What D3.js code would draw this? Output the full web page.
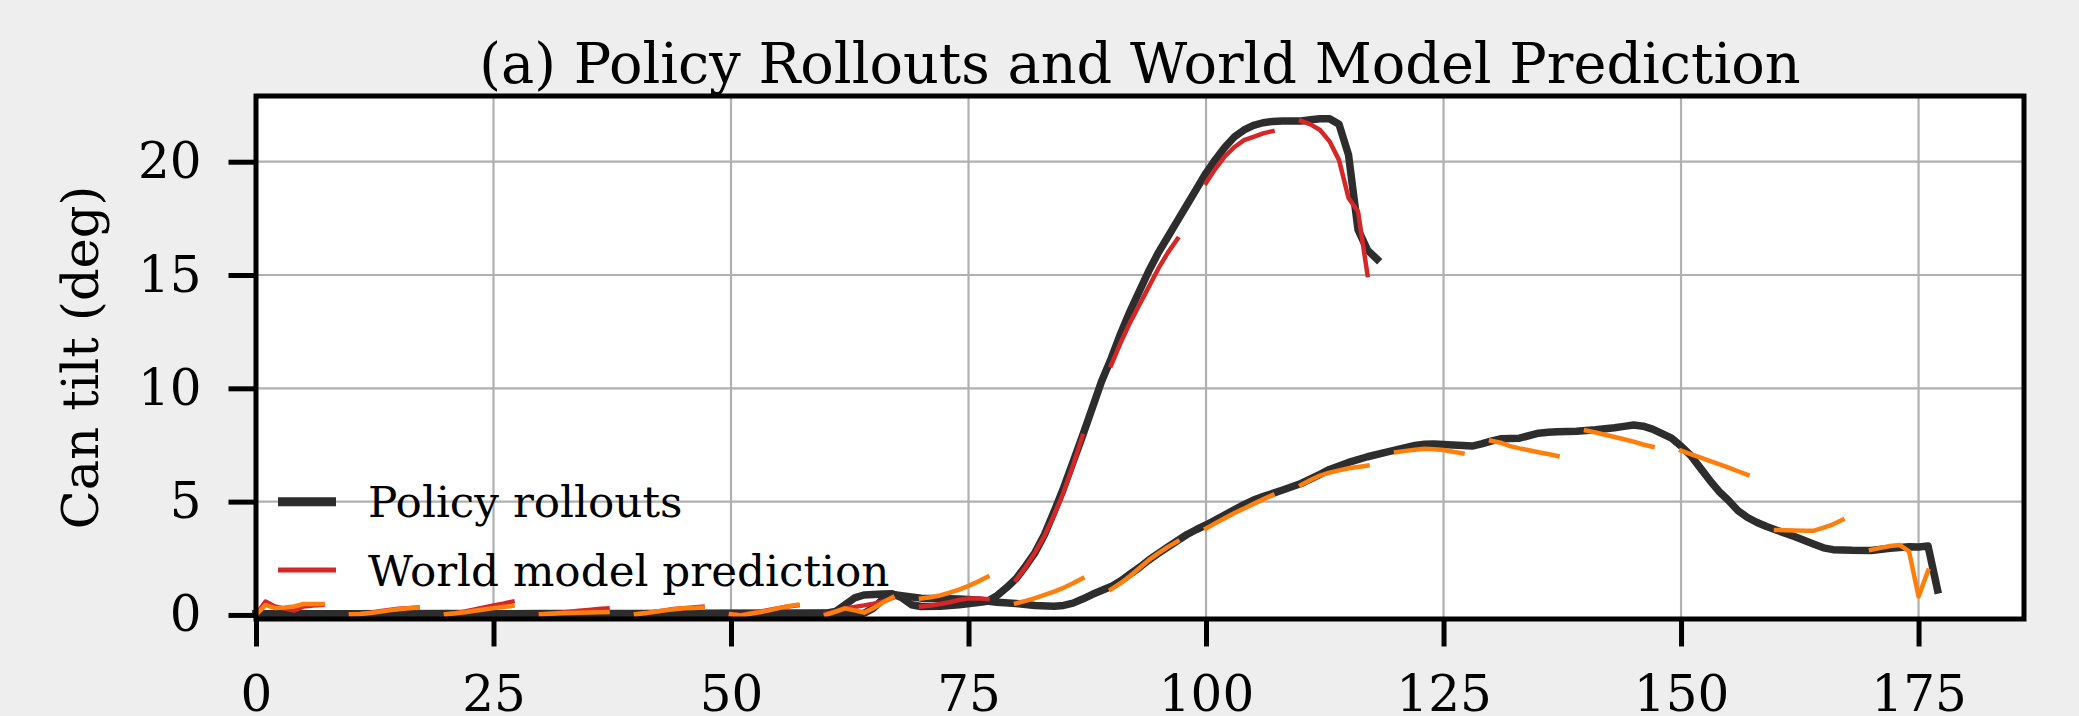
<!DOCTYPE html>
<meta charset="utf-8">
<style>
body { margin: 0; background: #eeeeee; }
svg { display: block; font-family: "DejaVu Serif", serif; }
.tick text { font-size: 50px; fill: #000; }
</style>
<svg width="2079" height="716"></svg>
<script src="https://d3js.org/d3.v7.min.js"></script>
<script>

// rollout with the big tilt (red predictions)
var steps1 = [0, 10, 20, 30, 40, 50, 60, 61, 62, 63, 64, 66, 67, 68, 69, 70, 72, 74, 76, 77,
  78, 79, 80, 81, 82, 83, 84, 85, 86, 87, 88, 89, 90, 91, 92, 93, 94, 95, 96, 97, 98, 99,
  100, 101, 102, 103, 104, 105, 106, 107, 108, 109, 110, 111, 112, 113, 114, 115, 116, 117, 118];
var tilt1 = [0.05, 0.05, 0.06, 0.05, 0.06, 0.07, 0.08, 0.15, 0.45, 0.75, 0.88, 0.92, 0.93, 0.75, 0.45, 0.37, 0.38, 0.45, 0.55, 0.6,
  0.85, 1.2, 1.6, 2.15, 2.75, 3.55, 4.55, 5.6, 6.75, 7.9, 9.1, 10.3, 11.3, 12.4, 13.4, 14.3, 15.2, 16.0, 16.7, 17.4, 18.1, 18.8,
  19.5, 20.1, 20.65, 21.1, 21.4, 21.6, 21.72, 21.78, 21.8, 21.8, 21.8, 21.85, 21.9, 21.9, 21.65, 20.3, 17.0, 16.1, 15.7];

// rollout with the small tilt (orange predictions)
var steps2 = [0, 10, 20, 30, 40, 50, 60, 64, 65, 66, 67, 68, 70, 72, 74, 76, 78, 80, 82, 84, 85, 86, 87, 88, 89,
  90, 91, 92, 93, 94, 95, 96, 97, 98, 99, 100, 102, 104, 105, 106, 108, 110, 112, 113, 115, 117, 119, 121, 122,
  123, 124, 126, 128, 129, 130, 131, 133, 135, 136, 137, 139, 141, 143, 144, 145, 146, 147, 148, 149, 150,
  151, 152, 153, 154, 155, 156, 157, 158, 159, 160, 162, 164, 165, 166, 168, 170, 172, 174, 175, 176, 177];
var tilt2 = [0.05, 0.05, 0.05, 0.06, 0.05, 0.06, 0.06, 0.07, 0.3, 0.7, 0.9, 0.85, 0.74, 0.72, 0.7, 0.66, 0.56, 0.5, 0.42, 0.38, 0.42, 0.52, 0.7, 0.9, 1.08,
  1.25, 1.5, 1.8, 2.1, 2.43, 2.72, 3.0, 3.28, 3.55, 3.77, 3.97, 4.42, 4.87, 5.07, 5.22, 5.5, 5.8, 6.2, 6.42, 6.73, 6.98, 7.18, 7.38, 7.48,
  7.53, 7.54, 7.5, 7.45, 7.55, 7.67, 7.77, 7.8, 8.02, 8.06, 8.08, 8.11, 8.17, 8.26, 8.32, 8.38, 8.33, 8.2, 8.0, 7.8, 7.45,
  7.05, 6.5, 5.95, 5.45, 5.05, 4.6, 4.3, 4.08, 3.9, 3.75, 3.45, 3.12, 2.96, 2.88, 2.85, 2.84, 2.94, 3.01, 3.0, 3.04, 1.1];

// world model predictions, one 8 step segment starting every 10 steps
var predStarts = [0, 10, 20, 30, 40, 50, 60, 70, 80, 90, 100, 110, 120, 130, 140, 150, 160, 170];
var predRed = [
  [0, 0.59, 0.37, 0.28, 0.19, 0.37, 0.42, 0.44],
  [0.03, 0.05, 0.1, 0.16, 0.22, 0.27, 0.3, 0.33],
  [0.03, 0.08, 0.15, 0.24, 0.33, 0.42, 0.5, 0.59],
  [0.03, 0.06, 0.1, 0.14, 0.18, 0.22, 0.26, 0.29],
  [0.03, 0.08, 0.14, 0.2, 0.26, 0.3, 0.33, 0.36],
  [0.03, 0.0, 0.07, 0.14, 0.22, 0.3, 0.37, 0.42],
  [0.05, 0.15, 0.3, 0.35, 0.42, 0.5, 0.6, 0.75],
  [0.37, 0.42, 0.48, 0.56, 0.66, 0.73, 0.73, 0.7],
  [1.55, 2.1, 2.75, 3.5, 4.4, 5.4, 6.6, 7.9],
  [11.0, 12.0, 12.9, 13.7, 14.5, 15.3, 16.0, 16.6],
  [19.07, 19.7, 20.25, 20.65, 20.95, 21.1, 21.25, 21.35],
  [21.8, 21.65, 21.4, 20.9, 20.07, 18.4, 17.8, 15.0]
];
var predOrange = [
  [0, 0.44, 0.3, 0.33, 0.37, 0.48, 0.48, 0.48],
  [0.03, 0.04, 0.08, 0.14, 0.2, 0.25, 0.29, 0.32],
  [0.03, 0.07, 0.12, 0.18, 0.24, 0.3, 0.35, 0.4],
  [0.03, 0.05, 0.07, 0.09, 0.1, 0.11, 0.12, 0.13],
  [0.03, 0.08, 0.14, 0.2, 0.25, 0.29, 0.31, 0.32],
  [0.03, -0.03, 0.05, 0.12, 0.2, 0.3, 0.38, 0.45],
  [0.0, 0.15, 0.29, 0.2, 0.1, 0.3, 0.55, 0.78],
  [0.73, 0.78, 0.86, 0.98, 1.12, 1.28, 1.47, 1.68],
  [0.51, 0.62, 0.74, 0.88, 1.03, 1.2, 1.4, 1.62],
  [1.13, 1.4, 1.72, 2.07, 2.43, 2.73, 3.0, 3.25],
  [3.82, 4.05, 4.28, 4.5, 4.7, 4.9, 5.1, 5.29],
  [5.73, 5.95, 6.15, 6.28, 6.38, 6.47, 6.53, 6.59],
  [7.18, 7.24, 7.29, 7.33, 7.31, 7.28, 7.2, 7.13],
  [7.69, 7.6, 7.45, 7.35, 7.27, 7.18, 7.1, 7.01],
  [8.14, 8.05, 7.95, 7.85, 7.75, 7.65, 7.52, 7.42],
  [7.25, 7.1, 6.95, 6.8, 6.65, 6.5, 6.34, 6.18],
  [3.75, 3.74, 3.73, 3.72, 3.72, 3.85, 4.0, 4.2],
  [2.87, 2.96, 3.04, 3.09, 2.8, 0.81, 1.95]
];

var xTicks = [0, 25, 50, 75, 100, 125, 150, 175];
var yTicks = [0, 5, 10, 15, 20];

var svg = d3.select("svg"),
    plotLeft = 256, plotRight = 2024, plotTop = 96, plotBottom = 619;

var x = d3.scaleLinear().domain([0, 186.1]).range([plotLeft, plotRight]);
var y = d3.scaleLinear().domain([-0.18, 22.9]).range([plotBottom, plotTop]);

svg.append("rect")
    .attr("x", plotLeft).attr("y", plotTop)
    .attr("width", plotRight - plotLeft).attr("height", plotBottom - plotTop)
    .attr("fill", "#fff");

// grid
svg.append("g").selectAll("line")
  .data(xTicks.slice(1))
  .enter().append("line")
    .attr("x1", function(d) { return x(d); }).attr("x2", function(d) { return x(d); })
    .attr("y1", plotTop).attr("y2", plotBottom)
    .attr("stroke", "#b0b0b0").attr("stroke-width", 2.2);
svg.append("g").selectAll("line")
  .data(yTicks.slice(1))
  .enter().append("line")
    .attr("y1", function(d) { return y(d); }).attr("y2", function(d) { return y(d); })
    .attr("x1", plotLeft).attr("x2", plotRight)
    .attr("stroke", "#b0b0b0").attr("stroke-width", 2.2);

var line = d3.line()
    .x(function(d) { return x(d[0]); })
    .y(function(d) { return y(d[1]); });

var rollouts = [d3.zip(steps1, tilt1), d3.zip(steps2, tilt2)];

svg.append("g").selectAll("path")
  .data(rollouts)
  .enter().append("path")
    .attr("d", line)
    .attr("fill", "none")
    .attr("stroke", "#2d2d2d")
    .attr("stroke-width", 7.5)
    .attr("stroke-linejoin", "round")
    .attr("stroke-linecap", "square");

function segments(preds) {
  return preds.map(function(vals, i) {
    return vals.map(function(v, j) { return [predStarts[i] + j, v]; });
  });
}

[[predRed, "#d62728"], [predOrange, "#ff7f0e"]].forEach(function(p) {
  svg.append("g").selectAll("path")
    .data(segments(p[0]))
    .enter().append("path")
      .attr("d", line)
      .attr("fill", "none")
      .attr("stroke", p[1])
      .attr("stroke-width", 4.5)
      .attr("stroke-linejoin", "round")
      .attr("stroke-linecap", "square");
});

// spines
svg.append("rect")
    .attr("x", plotLeft).attr("y", plotTop)
    .attr("width", plotRight - plotLeft).attr("height", plotBottom - plotTop)
    .attr("fill", "none")
    .attr("stroke", "#000")
    .attr("stroke-width", 5);

var xAxis = svg.append("g")
    .attr("transform", "translate(0," + plotBottom + ")")
    .call(d3.axisBottom(x).tickValues(xTicks).tickSize(27.5).tickPadding(29));
var yAxis = svg.append("g")
    .attr("transform", "translate(" + plotLeft + ",0)")
    .call(d3.axisLeft(y).tickValues(yTicks).tickSize(27.5).tickPadding(27));
[xAxis, yAxis].forEach(function(a) {
  a.select(".domain").remove();
  a.selectAll(".tick line").attr("stroke", "#000").attr("stroke-width", 5);
  a.attr("font-family", null).attr("font-size", null);
});

svg.append("text")
    .attr("x", (plotLeft + plotRight) / 2)
    .attr("y", 83)
    .attr("text-anchor", "middle")
    .attr("font-size", 55.7)
    .text("(a) Policy Rollouts and World Model Prediction");

svg.append("text")
    .attr("transform", "translate(98," + (plotTop + plotBottom) / 2 + ") rotate(-90)")
    .attr("text-anchor", "middle")
    .attr("font-size", 51)
    .text("Can tilt (deg)");

// legend
var legend = [
  {label: "Policy rollouts", color: "#2d2d2d", width: 9, y: 501.7},
  {label: "World model prediction", color: "#d62728", width: 5, y: 570}
];
var lg = svg.append("g").selectAll("g")
  .data(legend)
  .enter().append("g");
lg.append("line")
    .attr("x1", 278).attr("x2", 336)
    .attr("y1", function(d) { return d.y; }).attr("y2", function(d) { return d.y; })
    .attr("stroke", function(d) { return d.color; })
    .attr("stroke-width", function(d) { return d.width; });
lg.append("text")
    .attr("x", 368)
    .attr("y", function(d) { return d.y + 15.5; })
    .attr("font-size", 43.7)
    .text(function(d) { return d.label; });

</script>
